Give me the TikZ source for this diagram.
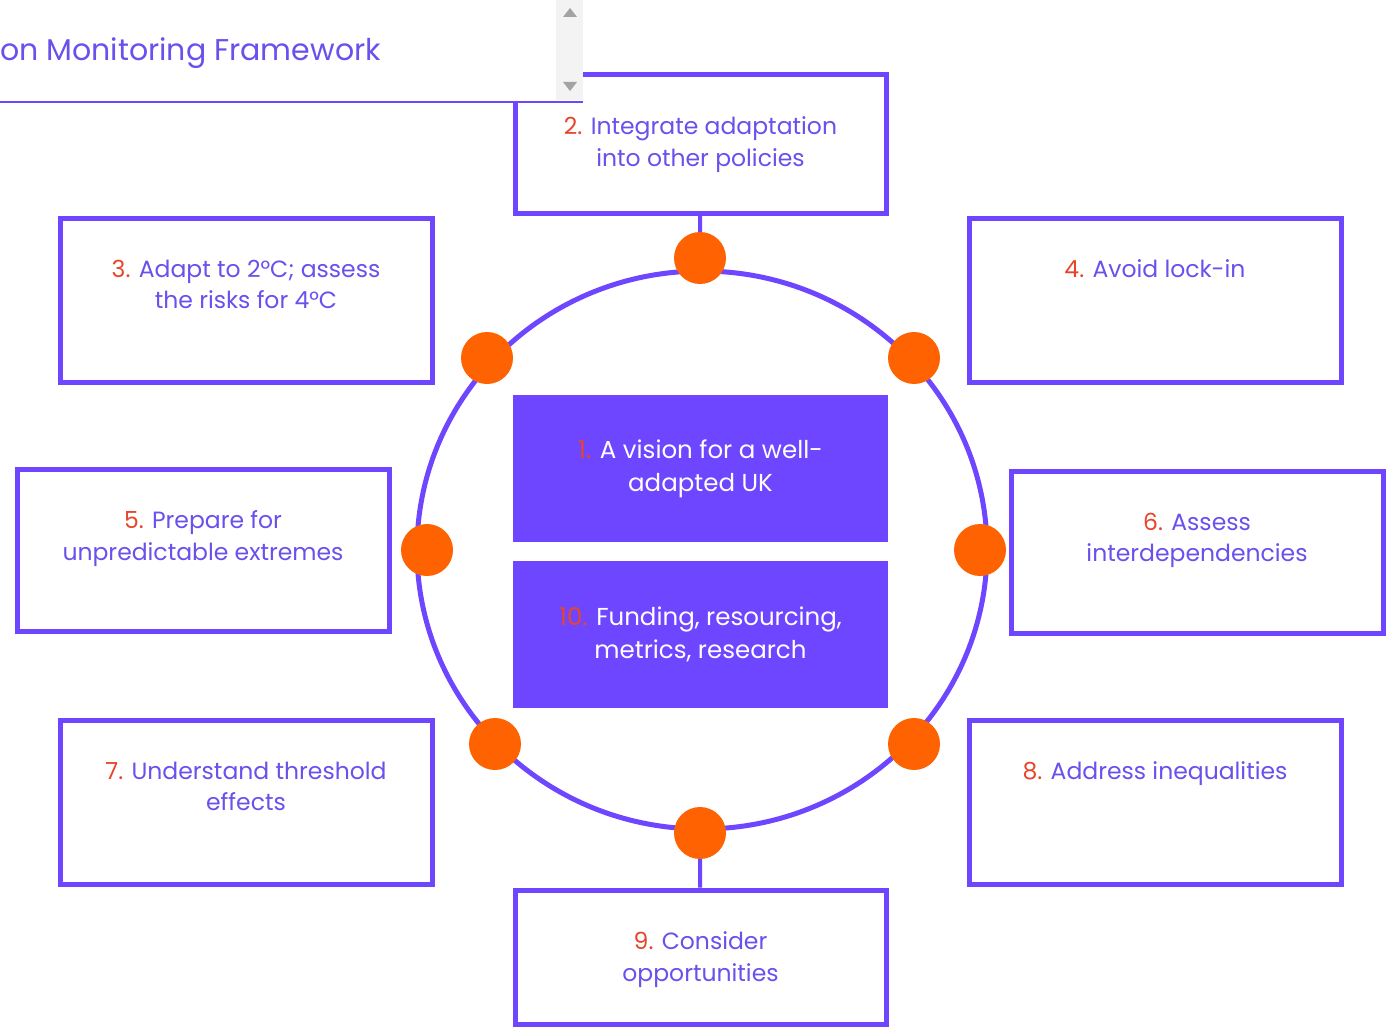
\documentclass[tikz,border=0pt]{standalone}
\usepackage{fontspec}
\setmainfont{Poppins}
\definecolor{violet}{HTML}{6E46FF}
\definecolor{violettext}{HTML}{6A50EC}
\definecolor{numred}{HTML}{E8442A}
\definecolor{dotorange}{HTML}{FF6200}
\definecolor{scrollgray}{HTML}{F3F3F3}
\definecolor{arrowgray}{HTML}{A3A3A3}
\newcommand{\num}[1]{{\color{numred}#1}}
\begin{document}
\begin{tikzpicture}[x=1pt, y=-1pt,
   every node/.style={font=\fontsize{23.5}{31.5}\selectfont},
   box/.style={draw=violet, line width=5pt, fill=white, minimum width=372pt, minimum height=164pt, inner sep=0pt},
   boxtext/.style={anchor=north, yshift=-44pt, align=center, text=violettext, inner sep=0pt},
   core/.style={fill=violet, minimum width=375pt, minimum height=147pt, inner sep=0pt, align=center, text=white,
                font=\fontsize{24.5}{33}\selectfont},
   dot/.style={circle, fill=dotorange, minimum size=52pt, inner sep=0pt},
   stem/.style={draw=violet, line width=4pt}]

\useasboundingbox (0,0) rectangle (1391,1027);

% ring
\draw[violet, line width=5pt] (702,550) ellipse [x radius=285, y radius=279];

% boxes round the ring
\node[box, minimum width=371pt, minimum height=138pt, label={[boxtext]north:{\num{2.} Integrate adaptation\\into other policies}}] (b2) at (700.5,144) {};
\node[box, label={[boxtext]north:{\num{3.} Adapt to 2°C; assess\\the risks for 4°C}}] (b3) at (246,300) {};
\node[box, label={[boxtext]north:{\num{4.} Avoid lock-in}}] (b4) at (1155,300) {};
\node[box, minimum height=162pt, label={[boxtext]north:{\num{5.} Prepare for\\unpredictable extremes}}] (b5) at (203,550) {};
\node[box, minimum height=162pt, label={[boxtext]north:{\num{6.} Assess\\interdependencies}}] (b6) at (1197,552) {};
\node[box, label={[boxtext]north:{\num{7.} Understand threshold\\effects}}] (b7) at (246,802) {};
\node[box, label={[boxtext]north:{\num{8.} Address inequalities}}] (b8) at (1155,802) {};
\node[box, minimum width=371pt, minimum height=134pt, label={[boxtext]north:{\num{9.} Consider\\opportunities}}] (b9) at (700.5,957) {};

% centre
\node[core] (c1) at (700.5,468.5) {\num{1.} A vision for a well-\\adapted UK};
\node[core] (c10) at (700.5,634) {\num{10.} Funding, resourcing,\\metrics, research};

% dots on the ring
\node[dot] (d2) at (700,258) {};
\node[dot] (d3) at (487,358) {};
\node[dot] (d4) at (914,358) {};
\node[dot] (d5) at (427,550) {};
\node[dot] (d6) at (980,550) {};
\node[dot] (d7) at (495,744) {};
\node[dot] (d8) at (914,744) {};
\node[dot] (d9) at (700,833) {};

\draw[stem] (b2) -- (d2);
\draw[stem] (b9) -- (d9);

% header panel
\fill[white] (0,0) rectangle (583,102);
\fill[scrollgray] (556,0) rectangle (583,100);
\fill[arrowgray] (563,17) -- (577,17) -- (570,8) -- cycle;
\fill[arrowgray] (563,82) -- (577,82) -- (570,91) -- cycle;
\draw[violet, line width=1.5pt] (0,102) -- (583,102);
\node[anchor=base west, inner sep=0pt, text=violettext, font=\fontsize{30}{36}\selectfont] (title) at (0,61) {on Monitoring Framework};

\end{tikzpicture}
\end{document}
